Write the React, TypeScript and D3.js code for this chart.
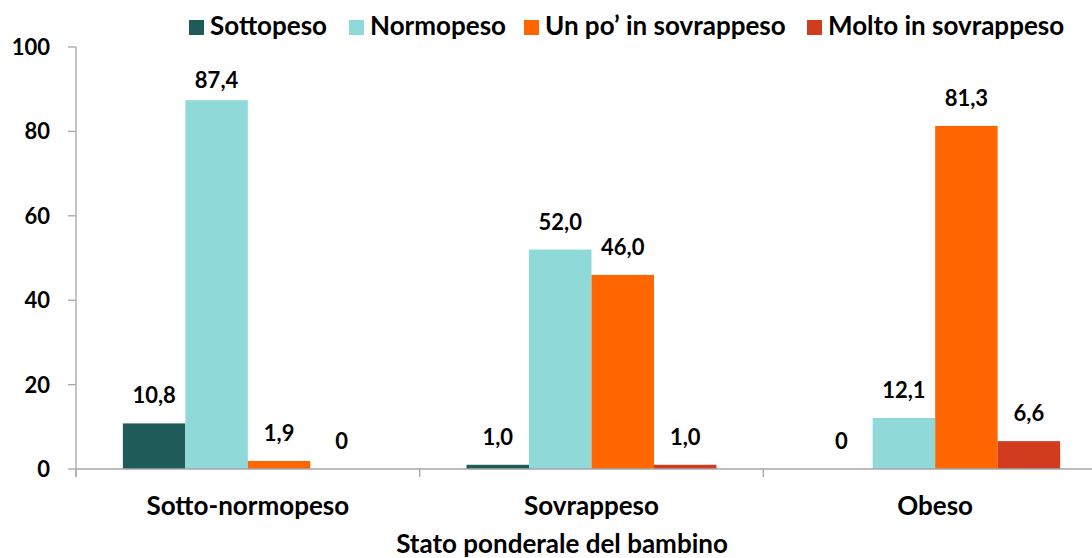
import React from "react";
import * as d3 from "d3";

const categories = ["Sotto-normopeso", "Sovrappeso", "Obeso"];
const seriesNames = ["Sottopeso", "Normopeso", "Un po’ in sovrappeso", "Molto in sovrappeso"];
const sottopeso = [10.8, 1.0, 0];
const normopeso = [87.4, 52.0, 12.1];
const unPoSovrappeso = [1.9, 46.0, 81.3];
const moltoSovrappeso = [0, 1.0, 6.6];
const yTicks = [0, 20, 40, 60, 80, 100];
const colors = ["#1F5B59", "#8FDAD9", "#FF6600", "#D13B1E"];
const legendX = [189, 349, 524, 807];

const W = 1092, H = 558;
const FONT = "Lato, 'Open Sans', sans-serif";

export default function App() {
  const series = [sottopeso, normopeso, unPoSovrappeso, moltoSovrappeso];
  const x = d3.scaleBand<string>().domain(categories).range([76, 1107]).paddingInner(0).paddingOuter(0);
  const y = d3.scaleLinear().domain([0, 100]).range([469, 47]);
  const inner = d3.scaleBand<number>().domain([0, 1, 2, 3]).range([0, x.bandwidth()]).paddingOuter(0.75).paddingInner(0);
  const fmt = (v: number) => (v === 0 ? "0" : v.toFixed(1).replace(".", ","));

  return (
    <svg width={W} height={H} style={{ display: "block", position: "absolute", left: 0, top: 0, overflow: "hidden" }} fontFamily={FONT} fontWeight="bold">
      <rect width={W} height={H} fill="#fff" />
      {/* y axis */}
      <line x1={76} x2={76} y1={y(100)} y2={y(0) + 8} stroke="#A6A6A6" strokeWidth={1.3} />
      {yTicks.map((t) => (
        <g key={t}>
          <line x1={68} x2={76} y1={y(t)} y2={y(t)} stroke="#A6A6A6" strokeWidth={1.3} />
          <text x={50} y={y(t) + 8} textAnchor="end" fontSize={22} fill="#000">{t}</text>
        </g>
      ))}
      {/* bars */}
      {categories.map((c, ci) => (
        <g key={c}>
          {series.map((s, si) => {
            const bx = (x(c) as number) + (inner(si) as number);
            const bw = inner.bandwidth();
            return (
              <g key={si}>
                {s[ci] > 0 && (
                  <rect x={bx} y={y(s[ci])} width={bw} height={y(0) - y(s[ci])} fill={colors[si]} />
                )}
                <text x={bx + bw / 2} y={Math.max(y(s[ci]) - 20, 88)} textAnchor="middle" fontSize={22} fill="#000">{fmt(s[ci])}</text>
              </g>
            );
          })}
        </g>
      ))}
      {/* x axis */}
      <line x1={76} x2={1107} y1={y(0)} y2={y(0)} stroke="#A6A6A6" strokeWidth={1.3} />
      {categories.map((c, ci) => (
        <line key={"t" + ci} x1={x(c) as number} x2={x(c) as number} y1={y(0)} y2={y(0) + 8} stroke="#A6A6A6" strokeWidth={1.3} />
      ))}
      {categories.map((c) => (
        <text key={"l" + c} x={(x(c) as number) + x.bandwidth() / 2} y={515} textAnchor="middle" fontSize={26} fill="#000">{c}</text>
      ))}
      <text x={562} y={553} textAnchor="middle" fontSize={26} fill="#000">Stato ponderale del bambino</text>
      {/* legend */}
      {seriesNames.map((n, i) => (
        <g key={n}>
          <rect x={legendX[i]} y={20} width={15} height={15} fill={colors[i]} />
          <text x={legendX[i] + 21} y={35} fontSize={26} fill="#000">{n}</text>
        </g>
      ))}
    </svg>
  );
}
